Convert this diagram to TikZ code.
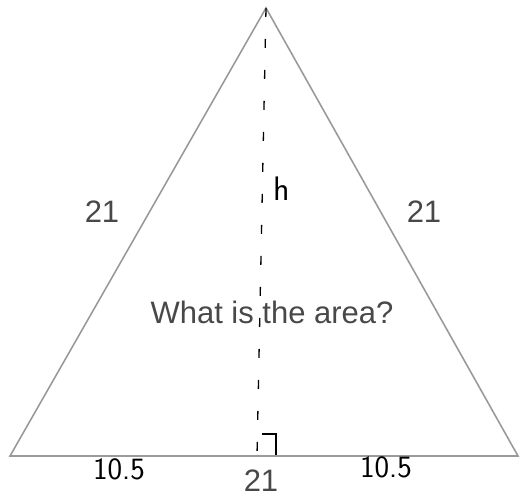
\documentclass[tikz,border=0pt]{standalone}
\usepackage{fontspec}
\setmainfont{Liberation Sans}
\usepackage{tikz}
\usetikzlibrary{positioning,calc}
\definecolor{scangray}{HTML}{9A9A9A}
\definecolor{printgray}{HTML}{484848}

\begin{document}
\begin{tikzpicture}[x=1pt,y=-1pt]

%--------------------------------------------------
% STYLES
%--------------------------------------------------

\tikzset{
sideline/.style={
draw=scangray,
line width=1.6pt,
line join=miter
},
printlabel/.style={
text=printgray,
font=\fontsize{31}{31}\selectfont,
inner sep=0pt,
anchor=base
},
handnote/.style={
text=black,
font=\sffamily\fontsize{31}{31}\selectfont,
inner sep=0pt,
anchor=base
}
}

\useasboundingbox (0,0) rectangle (531,498);

%--------------------------------------------------
% TRIANGLE
%--------------------------------------------------

\coordinate (apex) at (266,8);
\coordinate (baseleft) at (10,456);
\coordinate (baseright) at (518,456);
\coordinate (foot) at (257,456);

\draw[sideline] (baseleft)--(apex)--(baseright)--cycle;

%--------------------------------------------------
% HEIGHT
%--------------------------------------------------

\draw[black,line width=1.3pt,dash pattern=on 9pt off 22pt]
(apex)--(foot);

\draw[black,line width=1.3pt]
(262,434)--(276,434)--(276,455);

%--------------------------------------------------
% LABELS
%--------------------------------------------------

\node[printlabel] (leftside) at (102,222)
{21};

\node[printlabel] (rightside) at (424,222)
{21};

\node[printlabel] (baseside) at (261,491)
{21};

\node[printlabel] (question) at (272,323)
{What is the area?};

%--------------------------------------------------
% HANDWRITTEN
%--------------------------------------------------

\node[handnote,font=\sffamily\fontsize{34}{34}\selectfont] (height) at (282,200)
{h};

\node[handnote] (lefthalf) at (119,479)
{10.5};

\node[handnote] (righthalf) at (386,477)
{10.5};

\end{tikzpicture}
\end{document}
